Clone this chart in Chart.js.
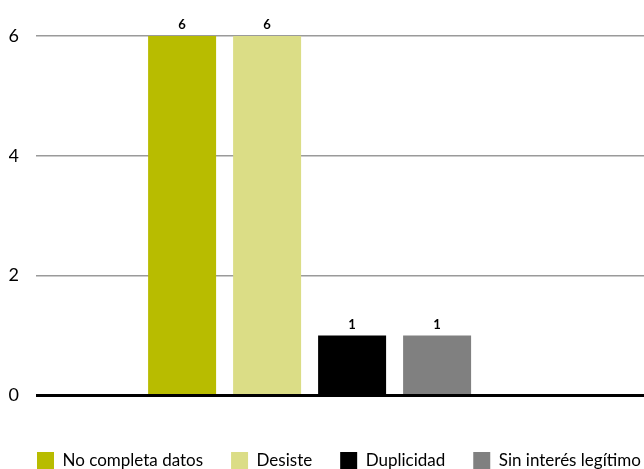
<!DOCTYPE html>
<html>
<head>
<meta charset="utf-8">
<script src="https://cdn.jsdelivr.net/npm/chart.js@4/dist/chart.umd.min.js"></script>
<style>
  html, body { margin: 0; padding: 0; background: #fff; }
  #wrap { width: 644px; height: 469px; }
</style>
</head>
<body>
<div id="wrap"><canvas id="chart"></canvas></div>
<script>
// Motivos de archivo: one group, one bar per reason
const reasons = ['No completa datos', 'Desiste', 'Duplicidad', 'Sin interés legítimo'];
const counts = [6, 6, 1, 1];
const reasonColors = ['#b8bc00', '#dbdd86', '#000000', '#808080'];
const yTicks = [0, 2, 4, 6];

const FONT = 'Lato, "Open Sans", sans-serif';

// value labels above each bar
const valueLabels = {
  id: 'valueLabels',
  afterDatasetsDraw(chart) {
    const ctx = chart.ctx;
    ctx.save();
    ctx.font = 'bold 13px ' + FONT;
    ctx.fillStyle = '#000';
    ctx.textAlign = 'center';
    ctx.textBaseline = 'alphabetic';
    chart.data.datasets.forEach((ds, i) => {
      chart.getDatasetMeta(i).data.forEach((el, j) => {
        ctx.fillText(String(ds.data[j].y), el.x, el.y - 7);
      });
    });
    ctx.restore();
  }
};

new Chart(document.getElementById('chart'), {
  type: 'bar',
  data: {
    datasets: reasons.map((name, i) => ({
      label: name,
      data: [{ x: 0, y: counts[i] }],
      backgroundColor: reasonColors[i],
      borderWidth: 0,
      categoryPercentage: 340 / 608,
      barPercentage: 0.8
    }))
  },
  options: {
    responsive: true,
    maintainAspectRatio: false,
    animation: false,
    // negative right padding gives the legend row room to run to the edge
    layout: { padding: { top: 36, left: 9, right: -60, bottom: -10 } },
    scales: {
      x: {
        type: 'linear',
        min: -0.9,
        max: 1.1,
        offset: false,
        ticks: { display: false, stepSize: 10, includeBounds: false },
        grid: { display: false, drawTicks: false },
        border: { display: false },
        afterFit(scale) { scale.height = 28.5; }
      },
      y: {
        min: 0,
        max: 6,
        afterBuildTicks(scale) { scale.ticks = yTicks.map(v => ({ value: v })); },
        afterFit(scale) { scale.width = 27; },
        ticks: {
          padding: 17,
          color: '#000',
          font: { family: FONT, size: 18 }
        },
        grid: {
          drawTicks: false,
          color: ctx => ctx.tick && ctx.tick.value === 0 ? '#000' : '#9a9a9a',
          lineWidth: ctx => ctx.tick && ctx.tick.value === 0 ? 3 : 1.5
        },
        border: { display: false }
      }
    },
    plugins: {
      legend: {
        position: 'bottom',
        align: 'start',
        labels: {
          boxWidth: 17,
          boxHeight: 17,
          padding: 28,
          color: '#000',
          font: { family: FONT, size: 17 }
        }
      },
      tooltip: { enabled: false }
    }
  },
  plugins: [valueLabels]
});
</script>
</body>
</html>
